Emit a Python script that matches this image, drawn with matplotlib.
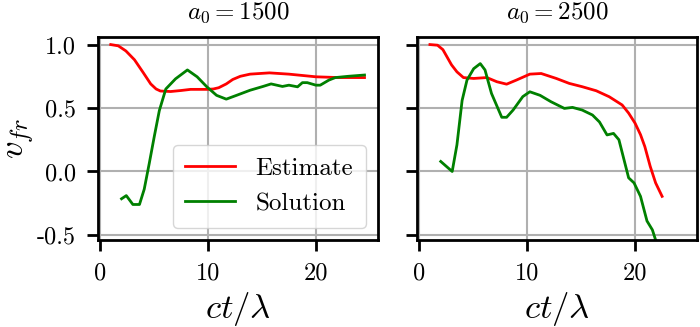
import numpy as np
import matplotlib
matplotlib.use("Agg")
import matplotlib.pyplot as plt

plt.rcParams["font.family"] = "serif"
plt.rcParams["font.serif"] = ["cmr10", "DejaVu Serif"]
plt.rcParams["mathtext.fontset"] = "cm"
plt.rcParams["axes.unicode_minus"] = False
plt.rcParams["axes.formatter.use_mathtext"] = False

titles = [r"$a_0 = 1500$", r"$a_0 = 2500$"]

# a0 = 1500
est1_x = [1.0, 1.7, 2.4, 3.2, 4.0, 4.7, 5.2, 5.6, 6.55, 7.5, 8.4, 9.9, 10.5, 11.0, 11.7, 12.3, 13.0, 13.9,
          15.7, 17.5, 20.0, 22.1, 24.5]
est1_y = [1.0, 0.99, 0.95, 0.88, 0.78, 0.69, 0.65, 0.634, 0.63, 0.638, 0.647, 0.647, 0.65, 0.66, 0.69, 0.725,
          0.75, 0.767, 0.777, 0.767, 0.746, 0.74, 0.74]
sol1_x = [2.0, 2.44, 3.05, 3.66, 4.1, 4.57, 5.03, 5.5, 6.1, 7.0, 8.1, 9.0, 9.9, 10.8, 11.7, 12.65,
          13.9, 15.1, 15.85, 16.9, 17.5, 18.3, 18.75, 19.2, 20.0, 20.4, 21.2, 21.8, 23.0, 24.5]
sol1_y = [-0.215, -0.19, -0.26, -0.26, -0.14, 0.065, 0.275, 0.48, 0.65, 0.73, 0.80, 0.746, 0.667, 0.60, 0.57, 0.60,
          0.64, 0.67, 0.69, 0.67, 0.68, 0.667, 0.70, 0.70, 0.68, 0.68, 0.72, 0.74, 0.75, 0.76]

# a0 = 2500
est2_x = [1.0, 1.7, 2.2, 2.6, 3.0, 3.5, 4.1, 5.05, 6.27, 7.2, 8.1, 9.0, 10.25, 11.3, 12.7, 13.9, 15.1, 16.4,
          17.6, 18.8, 19.4, 20.0, 20.5, 20.9, 21.4, 21.9, 22.5]
est2_y = [1.0, 0.995, 0.96, 0.90, 0.84, 0.785, 0.74, 0.733, 0.74, 0.707, 0.688, 0.72, 0.767, 0.772, 0.733, 0.694,
          0.668, 0.636, 0.589, 0.524, 0.46, 0.38, 0.29, 0.196, 0.04, -0.09, -0.196]
sol2_x = [2.0, 3.06, 3.5, 3.98, 4.43, 5.05, 5.66, 6.1, 6.7, 7.65, 8.1, 8.7, 9.6, 10.25, 11.2, 12.2,
          13.45, 14.2, 15.1, 16.05, 16.7, 17.4, 18.0, 18.5, 19.4, 19.9, 20.5, 21.1, 21.6, 21.9, 22.2]
sol2_y = [0.079, 0.0, 0.21, 0.56, 0.72, 0.81, 0.85, 0.80, 0.615, 0.427, 0.427, 0.484, 0.59, 0.628, 0.60, 0.55,
          0.497, 0.505, 0.484, 0.445, 0.39, 0.288, 0.30, 0.25, -0.05, -0.09, -0.196, -0.39, -0.46, -0.54, -0.65]

data = [(est1_x, est1_y, sol1_x, sol1_y), (est2_x, est2_y, sol2_x, sol2_y)]

fig, axes = plt.subplots(1, 2, figsize=(7, 3.27), dpi=100, sharex=True, sharey=True)
fig.subplots_adjust(left=0.14, right=0.996, top=0.887, bottom=0.266, wspace=0.14)

for ax, title, (ex, ey, sx, sy) in zip(axes, titles, data):
    ax.plot(ex, ey, color="red", lw=2.0, label="Estimate")
    ax.plot(sx, sy, color="green", lw=2.0, label="Solution")
    ax.grid(True, color="#b0b0b0", lw=1.5)
    ax.set_title(title, fontsize=18, pad=13)
    ax.set_xlabel(r"$ct/\lambda$", fontsize=25, labelpad=4)
    ax.tick_params(labelsize=17.5, width=2, length=8, pad=8)
    for s in ax.spines.values():
        s.set_linewidth(2)

axes[0].set_xlim(-0.18, 25.75)
axes[0].set_ylim(-0.54, 1.06)
axes[0].set_xticks([0, 10, 20])
axes[0].set_yticks([-0.5, 0.0, 0.5, 1.0])
axes[0].set_ylabel(r"$v_{fr}$", fontsize=25, labelpad=0)
axes[0].legend(loc="lower right", fontsize=18, handlelength=2.0, borderpad=0.5)

fig.savefig("out.png", dpi=100)
